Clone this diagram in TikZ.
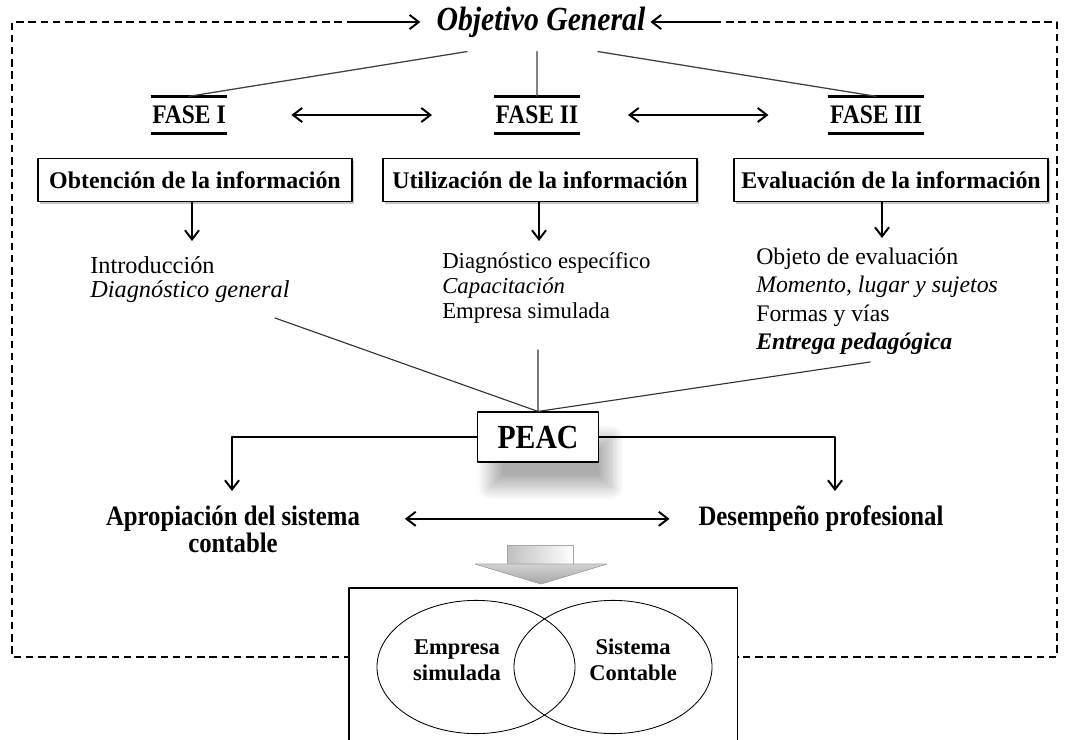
\documentclass[tikz,border=0pt]{standalone}
\usepackage{fontspec}
\setmainfont{Liberation Serif}
\newfontfamily\estrecha[FakeStretch=0.88]{Liberation Serif}
\usetikzlibrary{arrows.meta,shadows,shadows.blur,shapes.geometric,calc}
\begin{document}
\begin{tikzpicture}[x=0.025cm,y=-0.025cm,>={Straight Barb[length=6.5pt,width=10pt]}, line join=round, line cap=round,
	frame/.style={line width=1.4pt, dash pattern=on 5.3pt off 3.4pt, line cap=butt},
	flecha/.style={->, line width=1.4pt},
	fase/.style={font=\fontsize{19}{21}\estrecha\bfseries, inner xsep=1pt, minimum height=0.92cm},
	caja/.style={draw, line width=0.8pt, fill=white, minimum width=7.85cm, minimum height=1.075cm, font=\fontsize{17}{20}\selectfont\bfseries, drop shadow={shadow xshift=1.6pt, shadow yshift=-1.6pt, opacity=0.45}},
	lista/.style={anchor=north west, align=left, inner sep=0pt},
	efecto/.style={anchor=north, align=center, font=\fontsize{20}{18}\estrecha\bfseries},
	venntxt/.style={align=center, font=\fontsize{16}{18.5}\selectfont\bfseries}]
	\def\W{1069} \def\H{740} % kích thước
	\useasboundingbox (0,0) rectangle (\W,\H);
	\clip (0,0) rectangle (\W,\H);
	% mục tiêu và các giai đoạn
	\node[inner sep=0pt, font=\fontsize{24}{26}\estrecha\bfseries\itshape] (og) at (541,22) {Objetivo General};
	\node[fase] (f1) at (189,115) {FASE I};
	\node[fase] (f2) at (537,115) {FASE II};
	\node[fase] (f3) at (876,115) {FASE III};
	\foreach \f in {f1,f2,f3}
	\draw[line width=2.2pt, line cap=butt] (\f.north west)--(\f.north east) (\f.south west)--(\f.south east);
	\draw[gray!50!black, line width=0.9pt] ($(og.south)+(-74,14)$)--(f1.north) ($(og.south)+(-4,14)$)--(f2.north) ($(og.south)+(57,14)$)--(f3.north);
	\draw[<->, line width=1.4pt, shorten <=1.6cm, shorten >=1.55cm] (f1.east)--(f2.west);
	\draw[<->, line width=1.4pt, shorten <=1.2cm, shorten >=1.5cm] (f2.east)--(f3.west);
	% marco
	\coordinate (c1) at (354,22); \coordinate (c2) at (714,22); \coordinate (c3) at (12,657);
	\node[draw, line width=0.8pt, minimum width=9.7cm, minimum height=5cm] (venn) at (543,688) {};
	\draw[frame] (c1)--(12,22)--(c3)--(venn.west |- c3);
	\draw[frame] (c2)--(1057,22)--(1057,657)--(venn.east |- c3);
	\draw[flecha, shorten >=0.4cm] (c1)--(og.west);
	\draw[flecha, shorten >=0.12cm] (c2)--(og.east);
	% cajas
	\node[caja] (b1) at (195,180) {Obtención de la información};
	\node[caja] (b2) at (540,180) {Utilización de la información};
	\node[caja] (b3) at (891,180) {Evaluación de la información};
	\coordinate (a1) at (192,241); \coordinate (a2) at (539,241); \coordinate (a3) at (882,238);
	\foreach \a/\b in {a1/b1,a2/b2,a3/b3}
	\draw[flecha] (\a |- \b.south)--(\a);
	\node[lista, font=\fontsize{17.3}{17}\selectfont] (t1) at (90,256) {Introducción\\\textit{Diagnóstico general}};
	\node[lista, font=\fontsize{16.2}{17.7}\selectfont] (t2) at (442,252) {Diagnóstico específico\\\textit{Capacitación}\\Empresa simulada};
	\node[lista, font=\fontsize{16.9}{20}\selectfont] (t3) at (756,248) {Objeto de evaluación\\\textit{Momento, lugar y sujetos}\\Formas y vías\\\textbf{\textit{Entrega pedagógica}}};
	% PEAC
	\node[draw, line width=0.8pt, fill=white, minimum width=3.025cm, minimum height=1.25cm, font=\fontsize{24}{26}\estrecha\bfseries,
	blur shadow={shadow xshift=9pt, shadow yshift=-18pt, shadow blur radius=9pt, shadow blur steps=24, shadow opacity=32}] (peac) at (538,437) {PEAC};
	\coordinate (l1) at (275,318); \coordinate (l2) at (538,350); \coordinate (l3) at (870,362);
	\draw[gray!40!black, line width=0.8pt] (l1)--(peac.north) (l2)--(peac.north) (l3)--(peac.north);
	\node[efecto] (ap) at (233,501) {Apropiación del sistema\\contable};
	\node[efecto] (de) at (821,501) {Desempeño profesional};
	\coordinate (p1) at (232,491); \coordinate (p2) at (835,491);
	\draw[flecha] (peac.west) -| (p1);
	\draw[flecha] (peac.east) -| (p2);
	\draw[<->, line width=1.4pt, shorten <=1.0cm, shorten >=0.6cm] (ap.east |- de)--(de.west);
	% flecha gruesa
	\fill[left color=gray!50, right color=white, draw=gray!70, line width=0.4pt] (507,545)--(573,545)--(573,564)--(507,564)--cycle;
	\fill[top color=gray!35, bottom color=gray!70, draw=gray!70, line width=0.4pt] (475,564)--(607,564)--(541,584)--cycle;
	% diagrama de Venn
	\node[draw, ellipse, line width=0.6pt, minimum width=4.95cm, minimum height=3.33cm] (e1) at (476,667) {};
	\node[draw, ellipse, line width=0.6pt, minimum width=4.95cm, minimum height=3.33cm] (e2) at (613,667) {};
	\node[venntxt] (v1) at (457,660) {Empresa\\simulada};
	\node[venntxt] (v2) at (633,660) {Sistema\\Contable};
\end{tikzpicture}
\end{document}
